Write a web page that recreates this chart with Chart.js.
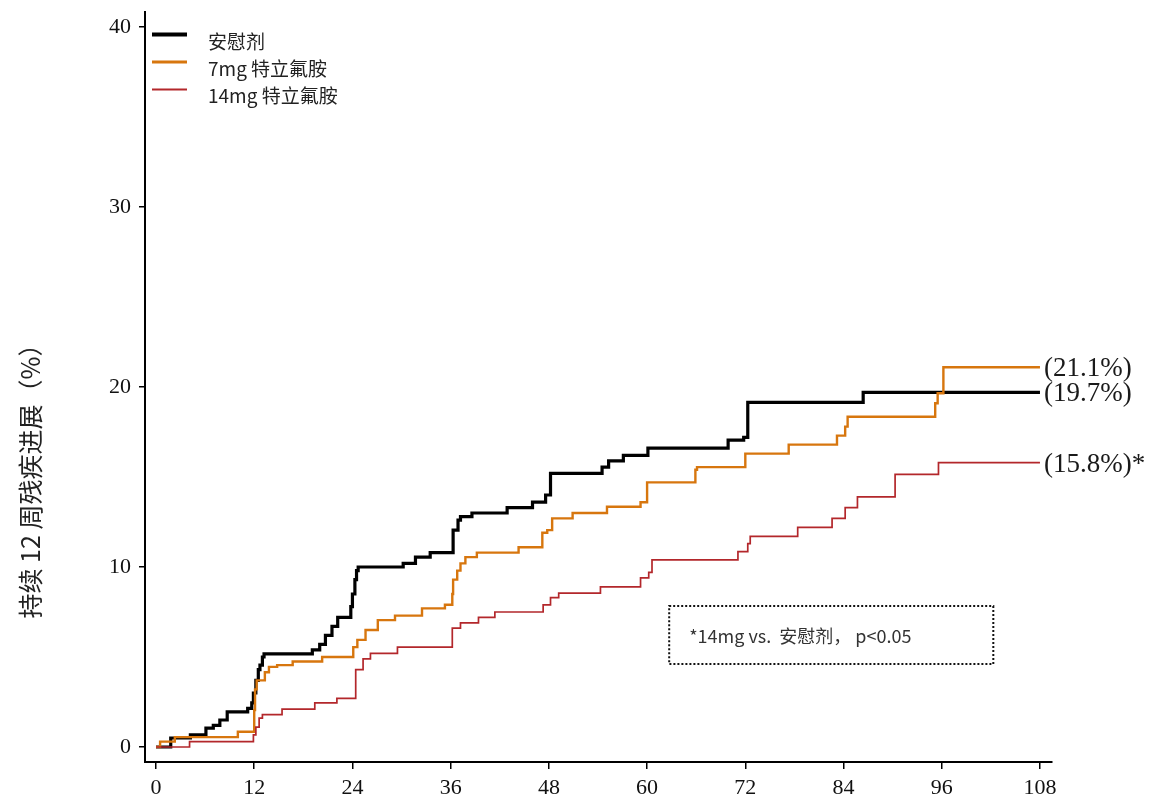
<!DOCTYPE html>
<html>
<head>
<meta charset="utf-8">
<script src="https://cdn.jsdelivr.net/npm/chart.js@4.4.1/dist/chart.umd.min.js"></script>
<style>
  html, body { margin: 0; padding: 0; background: #fff; }
  #wrap { width: 1163px; height: 805px; }
</style>
</head>
<body>
<div id="wrap"><canvas id="chart" width="1163" height="805"></canvas></div>
<script>
// 坐标刻度
const weekTicks = [0, 12, 24, 36, 48, 60, 72, 84, 96, 108];
const pctTicks = [0, 10, 20, 30, 40];

const seriesNames = ['安慰剂', '7mg 特立氟胺', '14mg 特立氟胺'];
const endLabels = ['(19.7%)', '(21.1%)', '(15.8%)*'];

// 安慰剂
const placeboWeeks = [0, 1.8, 4.2, 6.1, 7.0, 7.8, 8.7, 11.2, 11.7, 11.9, 12.2, 12.5, 12.7, 13.0, 13.2,
  19.1, 20.0, 20.7, 21.5, 22.2, 23.8, 24.0, 24.3, 24.5, 24.7, 30.2, 31.7, 33.5, 36.3, 36.9, 37.2, 38.6,
  42.9, 46.0, 47.6, 48.2, 54.5, 55.3, 57.1, 60.1, 69.9, 71.8, 72.3, 86.4, 108];
const placeboPct = [0, 0.5, 0.67, 1.05, 1.2, 1.5, 1.95, 2.15, 2.45, 3.0, 3.7, 4.3, 4.55, 5.0, 5.17,
  5.4, 5.7, 6.2, 6.7, 7.2, 7.8, 8.5, 9.3, 9.8, 10.0, 10.2, 10.55, 10.8, 12.05, 12.6, 12.8, 13.0,
  13.3, 13.6, 14.0, 15.2, 15.55, 15.9, 16.2, 16.6, 17.05, 17.2, 19.15, 19.7, 19.7];

// 7mg
const low7Weeks = [0, 0.5, 2.3, 10.0, 12.0, 12.1, 12.3, 13.3, 13.8, 14.8, 16.7, 20.3, 24.1, 24.6, 25.6,
  27.1, 29.2, 32.5, 35.3, 36.2, 36.3, 36.8, 37.2, 37.8, 39.2, 44.3, 47.2, 47.8, 48.4, 50.9, 55.1, 59.2,
  60.0, 65.9, 66.1, 72.0, 77.3, 83.2, 84.2, 84.5, 95.2, 95.5, 96.2, 108];
const low7Pct = [0, 0.3, 0.55, 0.85, 2.05, 3.2, 3.7, 4.15, 4.45, 4.55, 4.75, 5.0, 5.55, 5.95, 6.5,
  7.05, 7.3, 7.7, 7.9, 8.5, 9.3, 9.8, 10.2, 10.55, 10.8, 11.1, 11.9, 12.05, 12.7, 13.0, 13.35, 13.6,
  14.7, 15.4, 15.55, 16.3, 16.8, 17.3, 17.8, 18.35, 19.1, 19.65, 21.1, 21.1];

// 14mg
const high14Weeks = [0, 4.1, 11.9, 12.2, 12.6, 13.0, 15.4, 19.4, 22.1, 24.4, 25.3, 26.2, 29.5, 36.2,
  37.2, 39.4, 41.4, 47.3, 48.2, 49.2, 54.3, 59.2, 60.2, 60.6, 71.1, 72.3, 72.6, 78.4, 82.6, 84.2, 85.7,
  90.3, 95.6, 108];
const high14Pct = [0, 0.3, 0.67, 1.1, 1.6, 1.8, 2.1, 2.45, 2.7, 4.3, 4.9, 5.2, 5.55, 6.6,
  6.9, 7.2, 7.5, 7.9, 8.3, 8.55, 8.9, 9.4, 9.7, 10.4, 10.85, 11.3, 11.7, 12.2, 12.7, 13.3, 13.9,
  15.15, 15.8, 15.8];

const toPoints = (xs, ys) => xs.map((x, i) => ({ x: x, y: ys[i] }));

const colors = ['#000000', '#D7760E', '#B3272B'];
const widths = [3.2, 2.4, 1.7];
const legendWidths = [4, 3.2, 2.2];

const serif = "'Liberation Serif', 'DejaVu Serif', serif";
const cjk = "'Noto Sans CJK SC', 'Noto Sans', sans-serif";

const extras = {
  id: 'extras',
  afterDatasetsDraw(chart) {
    const ctx = chart.ctx;
    const xs = chart.scales.x, ys = chart.scales.y;
    ctx.save();

    // 曲线末端百分比
    ctx.font = '27px ' + serif;
    ctx.fillStyle = '#1a1a1a';
    ctx.textAlign = 'left';
    ctx.textBaseline = 'middle';
    chart.data.datasets.forEach((ds, i) => {
      const last = ds.data[ds.data.length - 1];
      ctx.fillText(endLabels[i], xs.getPixelForValue(last.x) + 4, ys.getPixelForValue(last.y) + 2);
    });

    // 图例
    chart.data.datasets.forEach((ds, i) => {
      const ly = 34.5 + i * 27.5;
      ctx.strokeStyle = ds.borderColor;
      ctx.lineWidth = legendWidths[i];
      ctx.beginPath();
      ctx.moveTo(152, ly);
      ctx.lineTo(187, ly);
      ctx.stroke();
      ctx.font = '19px ' + cjk;
      ctx.fillStyle = '#222';
      ctx.fillText(ds.label, 208, 42 + i * 26.7);
    });

    // 注释框
    const bx = xs.getPixelForValue(62.7), bx2 = xs.getPixelForValue(102.3);
    const by = ys.getPixelForValue(7.83), by2 = ys.getPixelForValue(4.61);
    ctx.setLineDash([2, 2]);
    ctx.lineWidth = 2;
    ctx.strokeStyle = '#111';
    ctx.strokeRect(bx, by, bx2 - bx, by2 - by);
    ctx.setLineDash([]);
    ctx.font = '18px ' + cjk;
    ctx.fillStyle = '#333';
    ctx.fillText('*14mg vs.  安慰剂， p<0.05', bx + 20, (by + by2) / 2 + 1);

    // 纵轴标题
    ctx.translate(30, 475);
    ctx.rotate(-Math.PI / 2);
    ctx.textAlign = 'center';
    ctx.font = '25px ' + cjk;
    ctx.fillStyle = '#222';
    ctx.fillText('持续 12 周残疾进展（%）', 0, 0);
    ctx.restore();
  }
};

new Chart(document.getElementById('chart'), {
  type: 'line',
  data: {
    datasets: [
      { label: seriesNames[0], data: toPoints(placeboWeeks, placeboPct), order: 3 },
      { label: seriesNames[1], data: toPoints(low7Weeks, low7Pct), order: 2 },
      { label: seriesNames[2], data: toPoints(high14Weeks, high14Pct), order: 1 }
    ].map((ds, i) => Object.assign(ds, {
      borderColor: colors[i],
      borderWidth: widths[i],
      stepped: true,
      pointRadius: 0,
      fill: false
    }))
  },
  options: {
    responsive: false,
    animation: false,
    layout: { padding: { top: 12, right: 111, left: 0, bottom: 0 } },
    plugins: { legend: { display: false }, tooltip: { enabled: false } },
    scales: {
      x: {
        type: 'linear',
        min: -1.344,
        max: 109.47,
        afterBuildTicks: s => { s.ticks = weekTicks.map(v => ({ value: v })); },
        afterFit: s => { s.height = 43; s.paddingLeft = 0; s.paddingRight = 0; },
        grid: { drawOnChartArea: false, drawTicks: true, tickLength: 7, color: '#000', lineWidth: 1.5 },
        border: { display: true, color: '#000', width: 2 },
        ticks: { font: { family: serif, size: 22 }, color: '#111', padding: 6, maxRotation: 0 }
      },
      y: {
        min: -0.833,
        max: 40.833,
        afterBuildTicks: s => { s.ticks = pctTicks.map(v => ({ value: v })); },
        afterFit: s => { s.width = 145; s.paddingTop = 0; s.paddingBottom = 0; },
        grid: { drawOnChartArea: false, drawTicks: true, tickLength: 6, color: '#000', lineWidth: 1.5 },
        border: { display: true, color: '#000', width: 2 },
        ticks: { font: { family: serif, size: 22 }, color: '#111', padding: 8 }
      }
    }
  },
  plugins: [extras]
});
</script>
</body>
</html>
